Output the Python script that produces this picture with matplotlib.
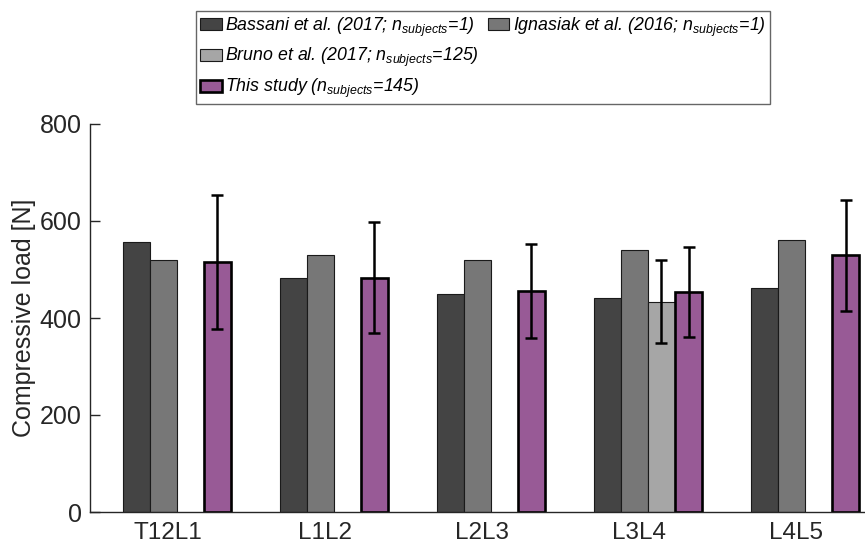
import matplotlib.pyplot as plt
import numpy as np
from matplotlib.patches import Patch

plt.rcParams["font.family"] = ["Liberation Sans", "DejaVu Sans"]
plt.rcParams["mathtext.fontset"] = "custom"
plt.rcParams["mathtext.it"] = "Liberation Sans:italic"
plt.rcParams["mathtext.rm"] = "Liberation Sans:italic"

# values (N)
SEGMENTS = ["T12L1", "L1L2", "L2L3", "L3L4", "L4L5"]
BASSANI = [557, 482, 450, 442, 461]
IGNASIAK = [520, 530, 520, 540, 560]
BRUNO = [np.nan, np.nan, np.nan, 434, np.nan]
BRUNO_SD = [np.nan, np.nan, np.nan, 85, np.nan]
THIS_STUDY = [516, 483, 456, 454, 529]
THIS_STUDY_SD = [138, 114, 97, 93, 114]

LABELS = [
    r"Bassani et al. (2017; $n_{subjects}$=1)",
    r"Ignasiak et al. (2016; $n_{subjects}$=1)",
    r"Bruno et al. (2017; $n_{subjects}$=125)",
    r"This study ($n_{subjects}$=145)",
]
COLORS = ["#444444", "#777777", "#a6a6a6", "#985a96"]
TEXT = "#262626"


def main() -> None:
    fig = plt.figure(figsize=(8.65, 5.48), dpi=100)
    ax = fig.add_axes([90 / 865, 36 / 548, 1 - 90 / 865, 388 / 548])

    x = np.arange(len(SEGMENTS))
    w = 0.172
    series = [BASSANI, IGNASIAK, BRUNO, THIS_STUDY]
    handles = []
    for k, (vals, col) in enumerate(zip(series, COLORS)):
        purple = k == 3
        ax.bar(
            x + (k - 1.5) * w,
            vals,
            width=w,
            color=col,
            edgecolor="black" if purple else "#1a1a1a",
            linewidth=1.9 if purple else 0.8,
            zorder=2,
        )
        handles.append(
            Patch(
                facecolor=col,
                edgecolor="black" if purple else "#1a1a1a",
                linewidth=1.9 if purple else 0.8,
            )
        )

    err_kw = dict(fmt="none", ecolor="black", elinewidth=1.8, capsize=4,
                  capthick=1.8, zorder=3)
    ax.errorbar(x + 0.5 * w, BRUNO, yerr=BRUNO_SD, **err_kw)
    ax.errorbar(x + 1.5 * w, THIS_STUDY, yerr=THIS_STUDY_SD, **err_kw)

    ax.set_xlim(-0.554, (865 - 177) / 157)
    ax.set_ylim(0, 800)
    ax.set_yticks([0, 200, 400, 600, 800])
    ax.set_xticks(x - 0.06)
    ax.set_xticklabels(SEGMENTS)
    ax.tick_params(axis="x", length=0, pad=7, labelsize=17.5, colors=TEXT)
    ax.tick_params(axis="y", direction="in", length=7, width=1, pad=6,
                   labelsize=18, colors=TEXT)
    ax.set_ylabel("Compressive load [N]", fontsize=18, color=TEXT, labelpad=3)
    for side in ["top", "right"]:
        ax.spines[side].set_visible(False)
    for side in ["left", "bottom"]:
        ax.spines[side].set_color(TEXT)
        ax.spines[side].set_linewidth(1)

    blank = Patch(facecolor="none", edgecolor="none")
    leg = fig.legend(
        [handles[0], handles[2], handles[3], handles[1], blank, blank],
        [LABELS[0], LABELS[2], LABELS[3], LABELS[1], "", ""],
        ncol=2,
        loc="upper left",
        bbox_to_anchor=(196 / 865, 1 - 11 / 548),
        borderaxespad=0,
        prop={"style": "italic", "size": 12.8},
        handlelength=1.2,
        handleheight=0.66,
        handletextpad=0.2,
        columnspacing=0.5,
        labelspacing=0.42,
        borderpad=0.25,
        frameon=True,
        fancybox=False,
    )
    leg.get_frame().set_edgecolor("#404040")
    leg.get_frame().set_linewidth(1)

    fig.savefig("out.png", dpi=100)
    plt.close(fig)


if __name__ == "__main__":
    main()
